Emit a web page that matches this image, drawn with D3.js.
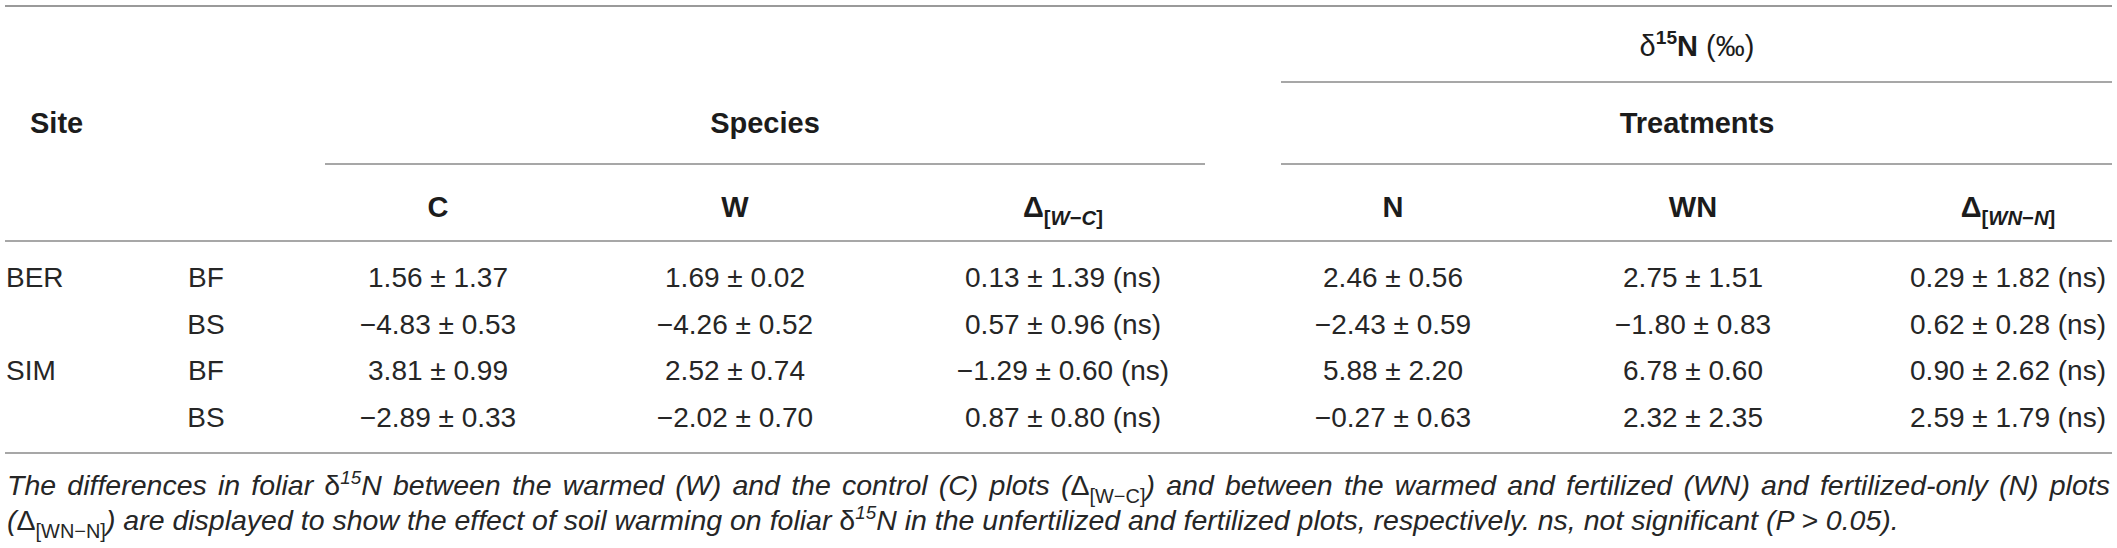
<!DOCTYPE html>
<html>
<head>
<meta charset="utf-8">
<script src="https://cdn.jsdelivr.net/npm/d3@7"></script>
<style>
  html, body { margin: 0; padding: 0; background: #fff; }
  svg { display: block; }
  text { font-family: "Liberation Sans", Arial, sans-serif; fill: #262626; }
  .hd { font-weight: bold; font-size: 29px; fill: #1c1c1c; }
  .cell { font-size: 28px; }
  .cap { font-size: 28.5px; font-style: italic; }
</style>
</head>
<body>
<svg></svg>
<script>
// table values
const sites = ["BER", "BER", "SIM", "SIM"];
const species = ["BF", "BS", "BF", "BS"];
const cMean = [1.56, -4.83, 3.81, -2.89], cSd = [1.37, 0.53, 0.99, 0.33];
const wMean = [1.69, -4.26, 2.52, -2.02], wSd = [0.02, 0.52, 0.74, 0.70];
const dwcMean = [0.13, 0.57, -1.29, 0.87], dwcSd = [1.39, 0.96, 0.60, 0.80];
const nMean = [2.46, -2.43, 5.88, -0.27], nSd = [0.56, 0.59, 2.20, 0.63];
const wnMean = [2.75, -1.80, 6.78, 2.32], wnSd = [1.51, 0.83, 0.60, 2.35];
const dwnMean = [0.29, 0.62, 0.90, 2.59], dwnSd = [1.82, 0.28, 2.62, 1.79];
const signif = ["ns", "ns", "ns", "ns"];

const columns = ["site", "species", "C", "W", "dWC", "N", "WN", "dWN"];

const width = 2117, height = 548;
const svg = d3.select("svg").attr("width", width).attr("height", height);

const x = d3.scaleOrdinal()
    .domain(columns)
    .range([6, 206, 438, 735, 1063, 1393, 1693, 2008]);

const y = d3.scalePoint()
    .domain(d3.range(sites.length))
    .range([287, 427]);

const fmt = d3.format(".2f");
const pm = (m, s) => `${fmt(m)} ± ${fmt(s)}`;

// rich text helper: parts = [{t, sup, sub, weight, italic}]
function rich(textSel, parts, size) {
  let shift = 0;
  parts.forEach(p => {
    const ts = textSel.append("tspan").text(p.t);
    let target = 0;
    if (p.sup) { target = -size * 0.4; ts.style("font-size", (size * 0.66) + "px"); }
    if (p.sub) { target = size * 0.28; ts.style("font-size", (size * 0.7) + "px"); }
    if (target !== shift) { ts.attr("dy", target - shift); shift = target; }
    if (p.weight) ts.style("font-weight", p.weight);
    if (p.italic === true) ts.style("font-style", "italic");
    if (p.italic === false) ts.style("font-style", "normal");
  });
  return textSel;
}

// rules
const rules = [
  { x1: 5, x2: 2112, y: 6, w: 2, c: "#9a9a9a" },
  { x1: 1281, x2: 2112, y: 82, w: 1.6, c: "#8a8a8a" },
  { x1: 325, x2: 1205, y: 164, w: 1.6, c: "#8a8a8a" },
  { x1: 1281, x2: 2112, y: 164, w: 1.6, c: "#8a8a8a" },
  { x1: 5, x2: 2112, y: 241, w: 1.6, c: "#8a8a8a" },
  { x1: 5, x2: 2112, y: 453, w: 1.6, c: "#8a8a8a" }
];
svg.append("g").selectAll("line").data(rules).enter().append("line")
    .attr("x1", d => d.x1).attr("x2", d => d.x2)
    .attr("y1", d => d.y).attr("y2", d => d.y)
    .attr("stroke", d => d.c).attr("stroke-width", d => d.w);

// header
const head = svg.append("g");
rich(head.append("text").attr("class", "hd").attr("x", 1697).attr("y", 56).attr("text-anchor", "middle"), [
  { t: "δ", weight: "normal" }, { t: "15", sup: true }, { t: "N " }, { t: "(‰)", weight: "normal" }
], 29);
head.append("text").attr("class", "hd").attr("x", 30).attr("y", 133).text("Site");
head.append("text").attr("class", "hd").attr("x", 765).attr("y", 133).attr("text-anchor", "middle").text("Species");
head.append("text").attr("class", "hd").attr("x", 1697).attr("y", 133).attr("text-anchor", "middle").text("Treatments");

const colHeads = [
  { key: "C", parts: [{ t: "C" }] },
  { key: "W", parts: [{ t: "W" }] },
  { key: "dWC", parts: [{ t: "Δ" }, { t: "[", sub: true }, { t: "W", sub: true, italic: true }, { t: "−", sub: true }, { t: "C", sub: true, italic: true }, { t: "]", sub: true }] },
  { key: "N", parts: [{ t: "N" }] },
  { key: "WN", parts: [{ t: "WN" }] },
  { key: "dWN", parts: [{ t: "Δ" }, { t: "[", sub: true }, { t: "WN", sub: true, italic: true }, { t: "−", sub: true }, { t: "N", sub: true, italic: true }, { t: "]", sub: true }] }
];
colHeads.forEach(h => {
  rich(head.append("text").attr("class", "hd").attr("x", x(h.key)).attr("y", 217).attr("text-anchor", "middle"), h.parts, 29);
});

// body
const rows = d3.range(sites.length).map(i => ({
  site: i === 0 || sites[i] !== sites[i - 1] ? sites[i] : "",
  species: species[i],
  C: pm(cMean[i], cSd[i]),
  W: pm(wMean[i], wSd[i]),
  dWC: `${pm(dwcMean[i], dwcSd[i])} (${signif[i]})`,
  N: pm(nMean[i], nSd[i]),
  WN: pm(wnMean[i], wnSd[i]),
  dWN: `${pm(dwnMean[i], dwnSd[i])} (${signif[i]})`
}));

const body = svg.append("g");
rows.forEach((r, i) => {
  columns.forEach(k => {
    body.append("text")
        .attr("class", "cell")
        .attr("x", x(k))
        .attr("y", y(i))
        .attr("text-anchor", k === "site" ? "start" : "middle")
        .text(r[k]);
  });
});

// caption
const cap = svg.append("g");
const line1 = rich(cap.append("text").attr("class", "cap").attr("x", 7).attr("y", 495), [
  { t: "The differences in foliar " }, { t: "δ", italic: false }, { t: "15", sup: true }, { t: "N between the warmed (W) and the control (C) plots (" },
  { t: "Δ", italic: false }, { t: "[W−C]", sub: true, italic: false }, { t: ") and between the warmed and fertilized (WN) and fertilized-only (N) plots" }
], 28.5);
rich(cap.append("text").attr("class", "cap").attr("x", 7).attr("y", 530), [
  { t: "(" }, { t: "Δ", italic: false }, { t: "[WN−N]", sub: true, italic: false }, { t: ") are displayed to show the effect of soil warming on foliar " },
  { t: "δ", italic: false }, { t: "15", sup: true }, { t: "N in the unfertilized and fertilized plots, respectively. ns, not significant (P > 0.05)." }
], 28.5);

// justify the first caption line
const natural = line1.node().getComputedTextLength();
const gaps = (line1.text().match(/ /g) || []).length;
line1.attr("word-spacing", Math.max(0, (2110 - 7 - natural) / gaps));
</script>
</body>
</html>
